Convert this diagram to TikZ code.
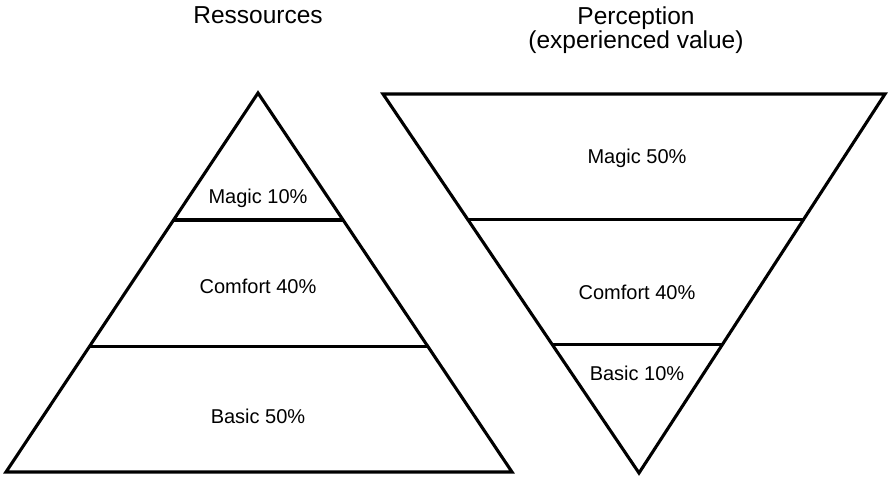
\documentclass[tikz,border=0pt]{standalone}
\usepackage{fontspec}
\setmainfont{Liberation Sans}
\usetikzlibrary{calc}
\begin{document}
\begin{tikzpicture}[x=1pt,y=-1pt,
  edge/.style={line width=3.1pt,black},
  lbl/.style={font=\fontsize{20}{24}\selectfont,anchor=base,inner sep=0pt},
  ttl/.style={font=\fontsize{24.5}{29}\selectfont,anchor=base,inner sep=0pt,align=center}]
\useasboundingbox (0,0) rectangle (889,477);
% left pyramid
\coordinate (LA) at (258,93);
\coordinate (LL) at (6,472);
\coordinate (LR) at (512,472);
\draw[edge] (LA) -- (LR) -- (LL) -- cycle;
\draw[edge] ($(LA)!0.335!(LL)$) -- ($(LA)!0.335!(LR)$);
\draw[edge] ($(LA)!0.668!(LL)$) -- ($(LA)!0.668!(LR)$);
% right inverted pyramid
\coordinate (RL) at (383,94);
\coordinate (RR) at (885,94);
\coordinate (RA) at (639,473);
\draw[edge] (RL) -- (RR) -- (RA) -- cycle;
\draw[edge] ($(RL)!0.33!(RA)$) -- ($(RR)!0.33!(RA)$);
\draw[edge] ($(RL)!0.662!(RA)$) -- ($(RR)!0.662!(RA)$);
% titles
\node[ttl] (t1) at (258,23) {Ressources};
\node[ttl] (t2) at (636,24) {Perception};
\node[ttl] (t3) at (636,48) {(experienced value)};
% labels
\node[lbl] (m1) at (258,203) {Magic 10\%};
\node[lbl] (c1) at (258,293) {Comfort 40\%};
\node[lbl] (b1) at (258,423) {Basic 50\%};
\node[lbl] (m2) at (637,163) {Magic 50\%};
\node[lbl] (c2) at (637,299) {Comfort 40\%};
\node[lbl] (b2) at (637,380) {Basic 10\%};
\end{tikzpicture}
\end{document}
